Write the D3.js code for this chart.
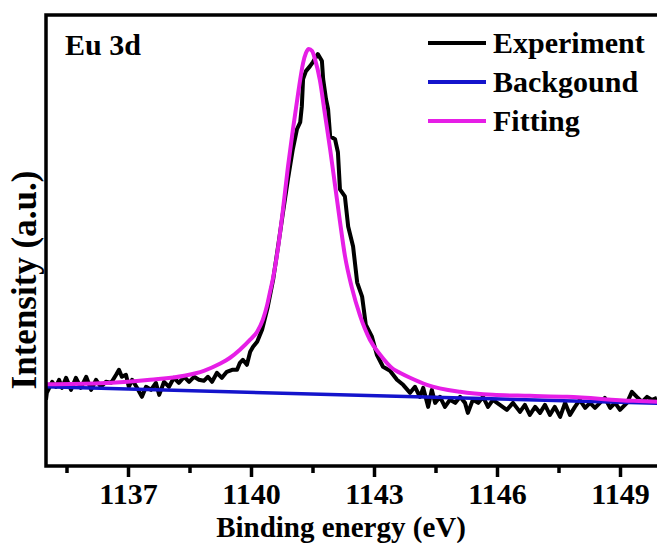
<!DOCTYPE html>
<html>
<head>
<meta charset="utf-8">
<script src="https://cdn.jsdelivr.net/npm/d3@7"></script>
<style>
  html, body { margin: 0; padding: 0; background: #fff; }
  svg { display: block; }
  text { font-family: "Liberation Serif", "Times New Roman", serif; font-weight: bold; fill: #000; }
</style>
</head>
<body>
<svg id="chart" width="657" height="543"></svg>
<script>
// Measured spectrum (binding energy in eV, intensity in a.u.)
var expEnergy = [
  1135.00, 1135.02, 1135.15, 1135.24, 1135.32, 1135.39, 1135.49, 1135.61, 1135.73, 1135.85,
  1135.98, 1136.10, 1136.22, 1136.34, 1136.46, 1136.59, 1136.71, 1136.78, 1136.85, 1136.95,
  1137.02, 1137.10, 1137.22, 1137.34, 1137.44, 1137.56, 1137.68, 1137.76, 1137.88, 1138.00,
  1138.12, 1138.24, 1138.37, 1138.49, 1138.61, 1138.73, 1138.85, 1138.95, 1139.05, 1139.17,
  1139.29, 1139.41, 1139.54, 1139.66, 1139.73, 1139.80, 1139.90, 1139.98, 1140.05, 1140.15,
  1140.27, 1140.41, 1140.54, 1140.66, 1140.78, 1140.90, 1141.02, 1141.12, 1141.20, 1141.24,
  1141.27, 1141.34, 1141.44, 1141.51, 1141.63, 1141.73, 1141.76, 1141.83, 1141.88, 1141.93,
  1142.05, 1142.12, 1142.17, 1142.29, 1142.37, 1142.49, 1142.59, 1142.71, 1142.80, 1142.95,
  1143.07, 1143.22, 1143.39, 1143.56, 1143.71, 1143.88, 1144.00, 1144.12, 1144.20, 1144.32,
  1144.41, 1144.49, 1144.61, 1144.73, 1144.85, 1144.98, 1145.10, 1145.22, 1145.29, 1145.41,
  1145.54, 1145.66, 1145.78, 1145.90, 1146.07, 1146.24, 1146.39, 1146.56, 1146.68, 1146.80,
  1146.93, 1147.05, 1147.17, 1147.29, 1147.41, 1147.54, 1147.66, 1147.78, 1147.90, 1148.02,
  1148.15, 1148.27, 1148.39, 1148.51, 1148.63, 1148.76, 1148.88, 1149.00, 1149.17, 1149.29,
  1149.41, 1149.54, 1149.66, 1149.78, 1149.90
];
var expIntensity = [
  66, 73, 84, 79, 86, 78, 88, 76, 88, 78,
  89, 76, 86, 79, 84, 83, 91, 96, 89, 91,
  79, 86, 78, 69, 79, 76, 83, 71, 84, 79,
  88, 83, 89, 84, 89, 86, 85, 89, 84, 93,
  88, 94, 96, 96, 103, 106, 101, 114, 119, 124,
  136, 159, 186, 219, 253, 286, 316, 336, 343, 359,
  386, 394, 399, 403, 411, 404, 386, 366, 356, 329,
  326, 313, 276, 269, 239, 219, 183, 169, 141, 129,
  111, 99, 95, 86, 81, 73, 79, 69, 78, 59,
  76, 63, 69, 59, 66, 63, 69, 63, 53, 66,
  63, 69, 59, 66, 61, 56, 63, 54, 61, 51,
  59, 53, 61, 51, 59, 49, 63, 51, 59, 66,
  58, 63, 58, 63, 68, 58, 63, 56, 63, 74,
  69, 64, 69, 66, 68
];

// Fitted peak envelope
var fitEnergy = [
  1135.00, 1136.32, 1137.54, 1138.37, 1138.85, 1139.24, 1139.49, 1139.73, 1139.98, 1140.15,
  1140.29, 1140.39, 1140.46, 1140.54, 1140.66, 1140.78, 1140.90, 1141.02, 1141.15, 1141.27,
  1141.34, 1141.41, 1141.49, 1141.56, 1141.68, 1141.80, 1141.93, 1142.05, 1142.17, 1142.29,
  1142.46, 1142.66, 1142.90, 1143.15, 1143.46, 1143.63, 1143.88, 1144.29, 1145.10, 1145.90,
  1146.80, 1147.71, 1149.32, 1150.00
];
var fitIntensity = [
  81.5, 82.5, 86, 90, 95, 102, 108, 116, 126, 134,
  146, 160, 173, 188, 218, 256, 298, 335, 372, 402,
  412, 416, 414, 406, 385, 352, 316, 280, 244, 210,
  178, 150, 126, 111, 97, 93, 88, 81, 74, 71,
  70, 69, 65, 64
];

// Linear background
var bgEnergy = [1135, 1150];
var bgIntensity = [79, 62.5];

var majorTicks = [1137, 1140, 1143, 1146, 1149];
var minorTicks = [1135.5, 1138.5, 1141.5, 1144.5, 1147.5];

var legendLabels = ['Experiment', 'Backgound', 'Fitting'];
var legendColors = ['#000000', '#1414cc', '#e61ee6'];

var svg = d3.select('#chart');

// Plot area; the right edge runs past the picture, as in the source figure
var plot = { left: 46, right: 661, top: 15, bottom: 466 };

var x = d3.scaleLinear().domain([1135, 1150]).range([plot.left, plot.right]);
var y = d3.scaleLinear().domain([0, 450]).range([plot.bottom, plot.top]);

svg.append('defs').append('clipPath').attr('id', 'clip')
  .append('rect')
  .attr('x', plot.left).attr('y', plot.top)
  .attr('width', plot.right - plot.left).attr('height', plot.bottom - plot.top);

function zipSeries(xs, ys) {
  return xs.map(function(v, i) { return [v, ys[i]]; });
}

var line = d3.line()
  .x(function(d) { return x(d[0]); })
  .y(function(d) { return y(d[1]); });

var curves = svg.append('g').attr('clip-path', 'url(#clip)');

curves.append('path')
  .datum(zipSeries(expEnergy, expIntensity))
  .attr('d', line.curve(d3.curveLinear))
  .attr('fill', 'none')
  .attr('stroke', legendColors[0])
  .attr('stroke-width', 4)
  .attr('stroke-linejoin', 'round');

curves.append('path')
  .datum(zipSeries(bgEnergy, bgIntensity))
  .attr('d', line.curve(d3.curveLinear))
  .attr('fill', 'none')
  .attr('stroke', legendColors[1])
  .attr('stroke-width', 3.5);

curves.append('path')
  .datum(zipSeries(fitEnergy, fitIntensity))
  .attr('d', line.curve(d3.curveMonotoneX))
  .attr('fill', 'none')
  .attr('stroke', legendColors[2])
  .attr('stroke-width', 4);

// Frame
svg.append('rect')
  .attr('x', plot.left).attr('y', plot.top)
  .attr('width', plot.right + 20 - plot.left).attr('height', plot.bottom - plot.top)
  .attr('fill', 'none')
  .attr('stroke', '#000')
  .attr('stroke-width', 3.5);

// Bottom axis: major ticks with labels, minor ticks without
var majorAxis = d3.axisBottom(x)
  .tickValues(majorTicks)
  .tickSize(11)
  .tickSizeOuter(0)
  .tickPadding(6)
  .tickFormat(d3.format('d'));

var minorAxis = d3.axisBottom(x)
  .tickValues(minorTicks)
  .tickSize(7)
  .tickSizeOuter(0)
  .tickFormat('');

[majorAxis, minorAxis].forEach(function(axis) {
  var g = svg.append('g')
    .attr('transform', 'translate(0,' + plot.bottom + ')')
    .call(axis);
  g.select('.domain').remove();
  g.selectAll('line').attr('stroke', '#000').attr('stroke-width', 3.5);
  g.selectAll('text')
    .attr('font-family', null)
    .style('font-size', '30px')
    .attr('fill', '#000');
});

// Axis titles
svg.append('text')
  .attr('x', 341)
  .attr('y', 537)
  .attr('text-anchor', 'middle')
  .style('font-size', '29px')
  .text('Binding energy (eV)');

svg.append('text')
  .attr('transform', 'translate(36,280) rotate(-90)')
  .attr('text-anchor', 'middle')
  .style('font-size', '35px')
  .text('Intensity (a.u.)');

// Panel label
svg.append('text')
  .attr('x', 65)
  .attr('y', 55)
  .style('font-size', '30px')
  .text('Eu 3d');

// Legend
var legend = svg.append('g').attr('transform', 'translate(428,43)');

var items = legend.selectAll('g')
  .data(legendLabels)
  .enter()
  .append('g')
  .attr('transform', function(d, i) { return 'translate(0,' + (i * 39) + ')'; });

items.append('line')
  .attr('x1', 0).attr('x2', 58)
  .attr('y1', 0).attr('y2', 0)
  .attr('stroke', function(d, i) { return legendColors[i]; })
  .attr('stroke-width', 4);

items.append('text')
  .attr('x', 65)
  .attr('y', 10)
  .style('font-size', '30px')
  .text(function(d) { return d; });
</script>
</body>
</html>
